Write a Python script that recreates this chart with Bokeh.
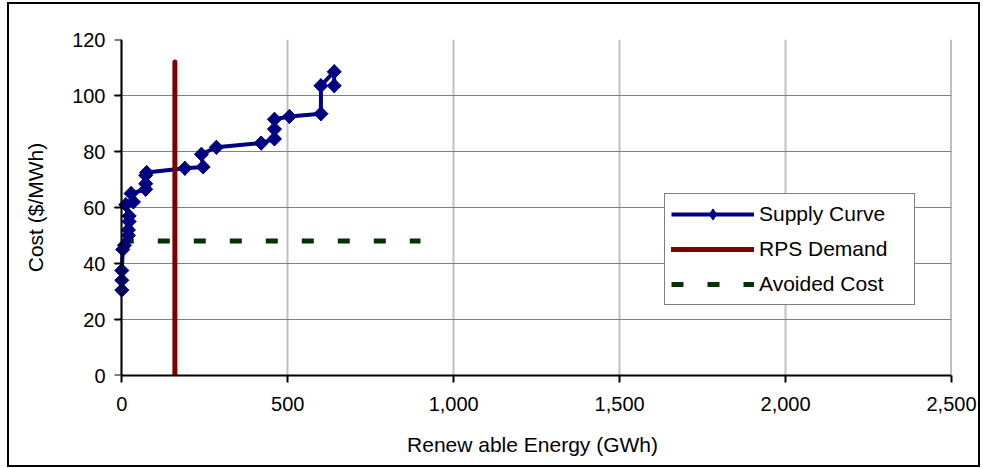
import math
from bokeh.plotting import figure
from bokeh.models import (FixedTicker, NumeralTickFormatter, Range1d, Legend,
                          LegendItem, Span, LinearAxis)
from bokeh.embed import file_html
from bokeh.resources import INLINE

# ---- data ----
energy = [0, 0, 0, 3, 8, 20, 20, 22, 22, 12, 35, 28, 72, 72, 72, 75,
          190, 245, 240, 285, 420, 460, 460, 460, 505, 600, 600, 640, 640]
cost = [30.5, 34, 37.5, 45, 46.5, 50, 52, 55, 57, 61, 62, 65, 66.5, 68.5,
        71.5, 72.5, 74, 74.5, 79, 81.5, 83, 84.5, 88, 91.5, 92.5, 93.5,
        103.5, 108.5, 103.5]
rps_energy = [160, 160]
rps_cost = [0, 112]
avoided_energy = [0, 900]
avoided_cost = [48, 48]
x_ticks = [0, 500, 1000, 1500, 2000, 2500]
y_ticks = [0, 20, 40, 60, 80, 100, 120]
x_min, x_max = 0, 2500
y_min, y_max = 0, 120

FONT = "Liberation Sans"

# small left pad so markers at x=0 are not clipped (axis line drawn at x=0)
p = figure(width=973, height=465, output_backend="svg", toolbar_location=None,
           x_range=Range1d(-25, x_max), y_range=Range1d(y_min, y_max),
           min_border_left=104, min_border_right=31, min_border_top=35,
           min_border_bottom=94, margin=(2, 0, 0, 7),
           styles={"border": "2px solid black"})

p.background_fill_color = "white"
p.border_fill_color = "white"
p.outline_line_color = None
p.add_layout(Span(location=x_max, dimension="height", line_color="#808080",
                  line_width=2))

# grids
p.xgrid.grid_line_color = "#c0c0c0"
p.xgrid.grid_line_width = 2
p.ygrid.grid_line_color = "#808080"
p.ygrid.grid_line_width = 1

# axes
p.xaxis.ticker = FixedTicker(ticks=x_ticks)
p.yaxis.ticker = FixedTicker(ticks=y_ticks)
p.xaxis.formatter = NumeralTickFormatter(format="0,0")
p.yaxis.formatter = NumeralTickFormatter(format="0")
p.xaxis.bounds = (x_min, x_max)
for ax in (p.xaxis[0], p.yaxis[0]):
    ax.axis_line_color = "black"
    ax.axis_line_width = 2
    ax.major_tick_line_color = "black"
    ax.major_tick_line_width = 2
    ax.major_tick_out = 7
    ax.major_tick_in = 0
    ax.minor_tick_line_color = None
    ax.major_label_text_font = FONT
    ax.major_label_text_font_size = "20px"
    ax.major_label_text_color = "black"
    ax.axis_label_text_font = FONT
    ax.axis_label_text_font_size = "21px"
    ax.axis_label_text_font_style = "normal"
    ax.axis_label_text_color = "black"

p.xaxis.axis_label = "Renew able Energy (GWh)"
p.yaxis.axis_label = "Cost ($/MWh)"
p.xaxis.major_label_standoff = 14
p.xaxis.axis_label_standoff = 19

# the left-panel axis carries labels + title only
p.yaxis.axis_line_color = None
p.yaxis.major_tick_line_color = None
p.yaxis.major_tick_out = 8
p.yaxis.major_label_standoff = 0
p.yaxis.axis_label_standoff = 22

# axis line + ticks exactly at x = 0
y_line_axis = LinearAxis(fixed_location=x_min, ticker=FixedTicker(ticks=y_ticks),
                         major_label_overrides={t: "" for t in y_ticks},
                         axis_line_color="black", axis_line_width=2,
                         major_tick_line_color="black", major_tick_line_width=2,
                         major_tick_out=7, major_tick_in=0,
                         minor_tick_line_color=None,
                         major_label_text_font_size="1px")
p.add_layout(y_line_axis, "left")

# series
r_avoided = p.line(avoided_energy, avoided_cost, line_color="#003300",
                   line_width=5, line_dash="12 24")
r_supply_line = p.line(energy, cost, line_color="#000080", line_width=4,
                       line_join="round")
r_supply_diamond = p.scatter(energy, cost, marker="diamond", size=14,
                             fill_color="#000080", line_color="#000080")
r_supply_pts = p.scatter(energy, cost, marker="square", angle=math.pi / 4,
                         size=10, fill_color="#000080", line_color="#000080",
                         line_width=1)
r_rps = p.line(rps_energy, rps_cost, line_color="#800000", line_width=5,
               line_cap="round")

legend = Legend(items=[
    LegendItem(label="Supply Curve", renderers=[r_supply_line, r_supply_diamond]),
    LegendItem(label="RPS Demand", renderers=[r_rps]),
    LegendItem(label="Avoided Cost", renderers=[r_avoided]),
], location=(551, 70))
legend.border_line_color = "black"
legend.border_line_width = 1
legend.background_fill_color = "white"
legend.background_fill_alpha = 1
legend.padding = 6
legend.margin = 0
legend.spacing = 7
legend.glyph_width = 83
legend.glyph_height = 28
legend.label_height = 20
legend.label_width = 149
legend.label_standoff = 5
legend.label_text_font = FONT
legend.label_text_font_size = "21px"
legend.label_text_color = "black"
p.add_layout(legend, "center")

open("out.html", "w").write(file_html(p, INLINE))
